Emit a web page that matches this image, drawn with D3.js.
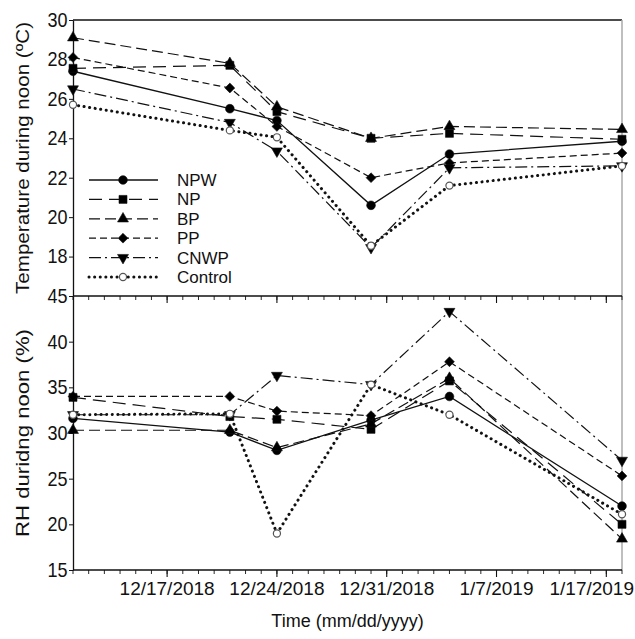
<!DOCTYPE html>
<html>
<head>
<meta charset="utf-8">
<script src="https://cdn.jsdelivr.net/npm/d3@7"></script>
<style>
  body { margin: 0; background: #fff; }
  text { font-family: "Liberation Sans", Arial, sans-serif; fill: #111; }
</style>
</head>
<body>
<svg id="svg0" width="635" height="639"></svg>
<script>
// sampling dates
const dates = ['2018-12-11', '2018-12-21', '2018-12-24', '2018-12-30', '2019-01-04', '2019-01-15'];
const series = ['NPW', 'NP', 'BP', 'PP', 'CNWP', 'Control'];

// temperature during noon (ºC)
const tempNPW = [27.4, 25.5, 24.9, 20.6, 23.2, 23.85];
const tempNP = [27.55, 27.7, 25.35, 24.0, 24.25, 23.95];
const tempBP = [29.1, 27.8, 25.6, 24.0, 24.6, 24.45];
const tempPP = [28.1, 26.55, 24.6, 22.0, 22.75, 23.25];
const tempCNWP = [26.5, 24.8, 23.35, 18.45, 22.5, 22.6];
const tempControl = [25.7, 24.4, 24.05, 18.55, 21.6, 22.6];

// RH during noon (%)
const rhNPW = [31.6, 30.1, 28.1, 31.4, 34.0, 22.0];
const rhNP = [33.9, 31.8, 31.5, 30.4, 35.7, 20.0];
const rhBP = [30.3, 30.3, 28.4, 31.0, 36.0, 18.4];
const rhPP = [34.0, 34.0, 32.4, 31.9, 37.8, 25.3];
const rhCNWP = [32.0, 32.0, 36.3, 35.3, 43.3, 27.0];
const rhControl = [32.0, 32.1, 19.0, 35.3, 32.0, 21.1];

// axes
const xDomain = ['2018-12-11', '2019-01-15'];
const xTickDates = ['2018-12-17', '2018-12-24', '2018-12-31', '2019-01-07', '2019-01-14'];
const xTickLabels = ['12/17/2018', '12/24/2018', '12/31/2018', '1/7/2019', '1/17/2019'];
const tempTicks = [18, 20, 22, 24, 26, 28, 30];
const rhTicks = [15, 20, 25, 30, 35, 40, 45];

let parse = d3.timeParse('%Y-%m-%d');
let svg = d3.select('#svg0');

let m = {left: 73, right: 622, top: 20, mid: 296, bottom: 570};

let xScale = d3.scaleTime().domain(xDomain.map(parse)).range([m.left, m.right]);
let yTemp = d3.scaleLinear().domain([16, 30]).range([m.mid, m.top]);
let yRH = d3.scaleLinear().domain([15, 45]).range([m.bottom, m.mid]);

// line / marker styles per treatment
let styles = {
    NPW:     {dash: null,        sym: d3.symbolCircle,   size: 60, rot: 0,   fill: '#000', w: 1.3},
    NP:      {dash: '13,7',      sym: d3.symbolSquare,   size: 64, rot: 0,   fill: '#000', w: 1.2},
    BP:      {dash: '11,5',      sym: d3.symbolTriangle, size: 52, rot: 0,   fill: '#000', w: 1.2},
    PP:      {dash: '7,4',       sym: d3.symbolSquare,   size: 48, rot: 45,  fill: '#000', w: 1.2},
    CNWP:    {dash: '12,4,2,4',  sym: d3.symbolTriangle, size: 52, rot: 180, fill: '#000', w: 1.2},
    Control: {dash: '0.1,5.5',   sym: d3.symbolCircle,   size: 40, rot: 0,   fill: '#fff', w: 3}
};

let tempData = {NPW: tempNPW, NP: tempNP, BP: tempBP, PP: tempPP, CNWP: tempCNWP, Control: tempControl};
let rhData = {NPW: rhNPW, NP: rhNP, BP: rhBP, PP: rhPP, CNWP: rhCNWP, Control: rhControl};

function drawSeries(g, yScale, data){
    series.forEach(name=>{
        let st = styles[name];
        let pts = data[name].map((v, i)=>[parse(dates[i]), v]);
        let line = d3.line().x(d=>xScale(d[0])).y(d=>yScale(d[1]));
        g.append('path').datum(pts)
            .attr('fill', 'none')
            .attr('stroke', '#111')
            .attr('stroke-width', st.w)
            .attr('stroke-linecap', name === 'Control' ? 'round' : 'butt')
            .attr('stroke-dasharray', st.dash)
            .attr('d', line);
    });
    series.forEach(name=>{
        let st = styles[name];
        let pts = data[name].map((v, i)=>[parse(dates[i]), v]);
        g.selectAll(null).data(pts).enter().append('path')
            .attr('d', d3.symbol().type(st.sym).size(st.size))
            .attr('transform', d=>'translate(' + xScale(d[0]) + ',' + yScale(d[1]) + ') rotate(' + st.rot + ')')
            .attr('fill', st.fill)
            .attr('stroke', name === 'Control' ? '#555' : '#111')
            .attr('stroke-width', name === 'Control' ? 1.2 : 0.6);
    });
}

// frame
svg.append('line').attr('x1', m.left).attr('x2', m.right).attr('y1', m.top).attr('y2', m.top)
    .attr('stroke', '#111').attr('stroke-width', 1.3);
svg.append('line').attr('x1', m.right).attr('x2', m.right).attr('y1', m.top).attr('y2', m.bottom)
    .attr('stroke', '#aaa').attr('stroke-width', 1.5);

// y axes (labels a bit narrow like the original)
let yAxisStyle = g=>{
    g.selectAll('.domain').attr('stroke', '#111').attr('stroke-width', 1.3);
    g.selectAll('.tick line').attr('stroke', '#111');
    g.selectAll('.tick text').style('font-size', '20px').attr('fill', '#111')
        .style('font-family', '"Liberation Sans", Arial, sans-serif')
        .attr('transform', 'scale(0.9,1)');
};
svg.append('g').attr('transform', 'translate(' + m.left + ',0)')
    .call(d3.axisLeft(yTemp).tickValues(tempTicks).tickSize(4).tickPadding(2).tickSizeOuter(0))
    .call(yAxisStyle);
svg.append('g').attr('transform', 'translate(' + m.left + ',0)')
    .call(d3.axisLeft(yRH).tickValues(rhTicks).tickSize(4).tickPadding(2).tickSizeOuter(0))
    .call(yAxisStyle);

// x axes: divider with inward ticks, bottom with outward ticks
let minorDays = d3.timeDay.range(parse(xDomain[0]), d3.timeDay.offset(parse(xDomain[1]), 1));
let majorDays = xTickDates.map(parse);
[m.mid, m.bottom].forEach(y=>{
    let g = svg.append('g').attr('transform', 'translate(0,' + y + ')');
    g.append('line').attr('x1', m.left).attr('x2', m.right).attr('stroke', '#111').attr('stroke-width', 1.3);
    g.selectAll('.minor').data(minorDays).enter().append('line')
        .attr('x1', d=>xScale(d)).attr('x2', d=>xScale(d))
        .attr('y1', 0).attr('y2', 4).attr('stroke', '#111').attr('stroke-width', 0.9);
    g.selectAll('.major').data(majorDays).enter().append('line')
        .attr('x1', d=>xScale(d)).attr('x2', d=>xScale(d))
        .attr('y1', 0).attr('y2', 7).attr('stroke', '#111').attr('stroke-width', 1.1);
});
svg.selectAll('.xlabel').data(majorDays).enter().append('text')
    .attr('class', 'xlabel')
    .attr('x', (d, i)=>i === majorDays.length - 1 ? 634 : xScale(d)).attr('y', 595)
    .attr('text-anchor', (d, i)=>i === majorDays.length - 1 ? 'end' : 'middle')
    .style('font-size', '19px')
    .text((d, i)=>xTickLabels[i]);

// data
drawSeries(svg.append('g'), yTemp, tempData);
drawSeries(svg.append('g'), yRH, rhData);

// legend
let lg = svg.append('g');
series.forEach((name, i)=>{
    let st = styles[name];
    let y = 180 + i * 19.4;
    lg.append('line').attr('x1', 89).attr('x2', 158).attr('y1', y).attr('y2', y)
        .attr('stroke', '#111').attr('stroke-width', st.w)
        .attr('stroke-linecap', name === 'Control' ? 'round' : 'butt')
        .attr('stroke-dasharray', st.dash);
    lg.append('path').attr('d', d3.symbol().type(st.sym).size(st.size))
        .attr('transform', 'translate(123,' + y + ') rotate(' + st.rot + ')')
        .attr('fill', st.fill)
        .attr('stroke', name === 'Control' ? '#555' : '#111')
        .attr('stroke-width', name === 'Control' ? 1.2 : 0.6);
    lg.append('text').attr('x', 177).attr('y', y + 6)
        .style('font-size', '17px').text(name);
});

// axis titles
svg.append('text').attr('transform', 'translate(29,' + (m.top + m.mid) / 2 + ') rotate(-90)')
    .attr('text-anchor', 'middle').style('font-size', '19px')
    .attr('textLength', 272).attr('lengthAdjust', 'spacingAndGlyphs')
    .text('Temperature during noon (ºC)');
svg.append('text').attr('transform', 'translate(29,' + (m.mid + m.bottom) / 2 + ') rotate(-90)')
    .attr('text-anchor', 'middle').style('font-size', '19px')
    .attr('textLength', 208).attr('lengthAdjust', 'spacingAndGlyphs')
    .text('RH duridng noon (%)');
svg.append('text').attr('x', (m.left + m.right) / 2).attr('y', 627)
    .attr('text-anchor', 'middle').style('font-size', '18px')
    .text('Time (mm/dd/yyyy)');
</script>
</body>
</html>
